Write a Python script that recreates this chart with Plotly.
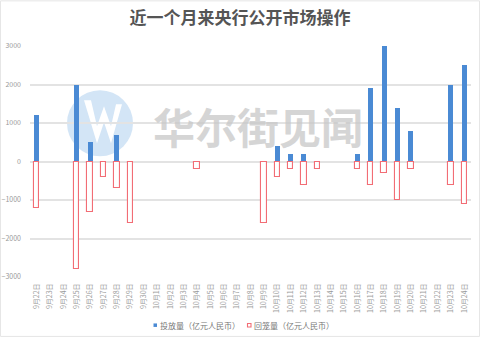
import plotly.graph_objects as go

dates = ["9月22日", "9月23日", "9月24日", "9月25日", "9月26日", "9月27日", "9月28日", "9月29日", "9月30日",
         "10月1日", "10月2日", "10月3日", "10月4日", "10月5日", "10月6日", "10月7日", "10月8日", "10月9日",
         "10月10日", "10月11日", "10月12日", "10月13日", "10月14日", "10月15日", "10月16日", "10月17日",
         "10月18日", "10月19日", "10月20日", "10月21日", "10月22日", "10月23日", "10月24日"]
injection = [1200, None, None, 2000, 500, None, 700, None, None,
             None, None, None, None, None, None, None, None, None,
             400, 200, 200, None, None, None, 200, 1900,
             3000, 1400, 800, None, None, 2000, 2500]
withdrawal = [-1200, None, None, -2800, -1300, -400, -700, -1600, None,
              None, None, None, -200, None, None, None, None, -1600,
              -400, -200, -600, -200, None, None, -200, -600,
              -300, -1000, -200, None, None, -600, -1100]
y_ticks = [-3000, -2000, -1000, 0, 1000, 2000, 3000]
series_names = ["投放量（亿元人民币）", "回笼量（亿元人民币）"]

FONT = "Noto Sans CJK SC"
BLUE = "#4a8ad4"
RED = "#f26d75"

fig = go.Figure()
fig.add_trace(go.Bar(x=dates, y=injection, name=series_names[0], showlegend=False,
                     marker=dict(color=BLUE, line=dict(width=0)), width=0.38))
fig.add_trace(go.Bar(x=dates, y=withdrawal, name=series_names[1], showlegend=False,
                     marker=dict(color="white", line=dict(color=RED, width=1.1)), width=0.4))

# plot-area pixel geometry
L, R, T, B = 30, 471, 45.7, 277
W, H = R - L, B - T
def px(x): return (x - L) / W
def py(y): return (B - y) / H

shapes = [
    dict(type="circle", xref="paper", yref="paper", layer="below",
         x0=px(67), x1=px(133), y0=py(156), y1=py(90),
         fillcolor="#d3e5f6", line=dict(width=0)),
    dict(type="path", xref="paper", yref="paper", layer="below",
         path=f"M {px(84)},{py(100)} L {px(97)},{py(143)} L {px(104)},{py(122)} L {px(111)},{py(143)} L {px(122)},{py(104)} "
              f"L {px(116)},{py(104)} L {px(111)},{py(126)} L {px(104)},{py(106)} L {px(97)},{py(126)} L {px(91)},{py(100)} Z",
         fillcolor="white", line=dict(width=0)),
    dict(type="rect", xref="paper", yref="paper", layer="below",
         x0=px(0.5), x1=px(479.5), y0=py(336.5), y1=py(0.5),
         line=dict(color="#e6e6e6", width=1)),
    # legend swatches
    dict(type="rect", xref="paper", yref="paper",
         x0=px(153.5), x1=px(157), y0=py(327), y1=py(323.5),
         fillcolor=BLUE, line=dict(width=0)),
    dict(type="rect", xref="paper", yref="paper",
         x0=px(247.5), x1=px(251), y0=py(327), y1=py(323.5),
         fillcolor="white", line=dict(color=RED, width=1.1)),
]

annotations = [
    dict(text="<b>华尔街见闻</b>", xref="paper", yref="paper",
         x=px(258), y=py(125), showarrow=False,
         font=dict(family=FONT, size=42, color="rgba(200,200,200,0.75)")),
    dict(text=series_names[0], xref="paper", yref="paper", x=px(157.5), y=py(325.5),
         xanchor="left", yanchor="middle", showarrow=False,
         font=dict(family=FONT, size=8, color="#777777")),
    dict(text=series_names[1], xref="paper", yref="paper", x=px(251.5), y=py(325.5),
         xanchor="left", yanchor="middle", showarrow=False,
         font=dict(family=FONT, size=8, color="#777777")),
]

fig.update_layout(
    width=480, height=337,
    margin=dict(l=L, r=480 - R, t=T, b=337 - B, autoexpand=False),
    paper_bgcolor="white", plot_bgcolor="white",
    barmode="overlay", bargap=0,
    font=dict(family=FONT, color="#888888", size=7),
    title=dict(text="<b>近一个月来央行公开市场操作</b>", x=0.5, xanchor="center",
               y=1 - 18 / 337, yanchor="middle",
               font=dict(family=FONT, size=17, color="#555555")),
    xaxis=dict(type="category", tickangle=-90, tickfont=dict(size=7, color="#999999"),
               showgrid=False, showline=False, ticks="", ticklabelstandoff=4, automargin=False),
    yaxis=dict(range=[-3000, 3000], tickvals=y_ticks, tickfont=dict(size=7, color="#999999"),
               gridcolor="#e3e3e3", gridwidth=1.5, zeroline=True, zerolinecolor="#e3e3e3",
               zerolinewidth=1.5, ticklabelstandoff=8, automargin=False),
    shapes=shapes,
    annotations=annotations,
    showlegend=False,
)

fig.write_html("out.html")
